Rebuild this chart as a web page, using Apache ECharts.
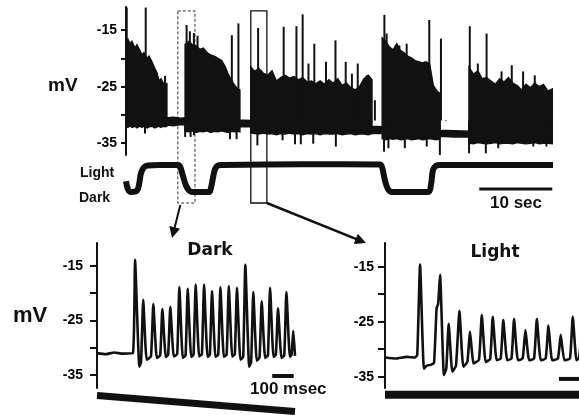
<!DOCTYPE html>
<html>
<head>
<meta charset="utf-8">
<script src="https://cdn.jsdelivr.net/npm/echarts@6.0.0/dist/echarts.min.js"></script>
<style>
  html, body { margin: 0; padding: 0; background: #fff; }
  #chart { width: 579px; height: 418px; }
</style>
</head>
<body>
<div id="chart"></div>
<script>
// ---- top recording: time in sec, membrane potential in mV ----
// envelope of the dense spiking trace (upper edge / lower edge)
const traceT = [0, 0.27, 0.55, 0.82, 1.23, 1.5, 1.9, 2.2, 2.45, 2.9, 3.15, 3.55, 3.95, 4.25, 4.5, 4.8, 5.05, 5.35, 5.6,
  5.6, 6.5, 7.5, 8.1,
  8.1, 8.6, 9.1, 9.6, 10.1, 10.6, 11.1, 11.6, 12.1, 12.6, 13.1, 13.6, 14.0, 14.5, 14.9, 15.3, 15.6,
  15.6, 17.1,
  17.1, 17.6, 18.2, 18.8, 19.4, 20.0, 20.6, 21.2, 21.8, 22.4, 23.0, 23.6, 24.2, 24.8, 25.4, 26.0, 26.6, 27.2, 27.8, 28.4, 29.0, 29.6, 30.2, 30.8, 31.4, 32.0, 32.6, 33.2, 33.7,
  33.7, 35.1,
  35.1, 35.6, 36.1, 36.6, 37.1, 37.6, 38.1, 38.6, 39.1, 39.6, 40.1, 40.6, 41.1, 41.6, 42.1, 42.6, 43.0,
  43.0, 45.0, 47.0,
  47.0, 47.6, 48.2, 48.8, 49.4, 50.0, 50.6, 51.2, 51.8, 52.4, 53.0, 53.6, 54.2, 54.8, 55.4, 56.0, 56.6, 57.2, 57.8, 58.4];
const traceHigh = [-17.1, -16.6, -17.4, -17.0, -18.2, -17.6, -18.6, -19.4, -19.0, -20.0, -19.6, -20.6, -21.8, -22.6, -24.0, -23.6, -24.3, -24.4, -24.5,
  -30.5, -30.4, -30.6, -30.5,
  -17.5, -17.0, -17.6, -17.8, -18.4, -18.2, -19.0, -19.4, -19.6, -20.0, -20.4, -21.5, -22.8, -24.0, -24.8, -25.4, -25.6,
  -30.9, -31.0,
  -21.5, -22.3, -21.8, -22.6, -23.0, -22.2, -24.0, -23.4, -23.0, -23.5, -23.2, -23.8, -23.4, -24.2, -24.0, -24.5, -24.0, -24.6, -23.8, -24.4, -23.6, -24.8, -24.4, -25.2, -25.6, -25.0, -23.6, -23.0, -23.8,
  -32.0, -32.1,
  -16.4, -17.0, -18.0, -18.5, -17.4, -18.6, -19.0, -19.6, -19.9, -20.4, -20.6, -20.8, -20.6, -21.0, -24.8, -25.8, -26.2,
  -32.7, -32.8, -32.9,
  -21.6, -22.8, -22.2, -23.6, -23.4, -24.0, -24.6, -23.6, -24.2, -23.4, -24.4, -24.8, -25.6, -24.6, -25.2, -24.4, -25.0, -24.6, -25.8, -25.4];
const traceLow = [-32.0, -32.2, -31.9, -32.2, -32.0, -32.3, -32.0, -32.2, -32.0, -32.3, -32.1, -32.0, -32.3, -32.1, -32.0, -32.2, -32.0, -32.1, -32.0,
  -31.8, -31.9, -31.7, -31.8,
  -32.9, -33.0, -32.8, -33.1, -32.9, -33.0, -32.8, -33.1, -32.9, -33.0, -32.8, -33.0, -33.1, -32.9, -33.0, -32.9, -33.0,
  -32.1, -32.1,
  -33.2, -33.3, -33.4, -33.2, -33.4, -33.3, -33.5, -33.3, -33.4, -33.2, -33.4, -33.3, -33.5, -33.3, -33.4, -33.3, -33.5, -33.3, -33.4, -33.4, -33.3, -33.5, -33.4, -33.3, -33.5, -33.4, -33.4, -33.5, -33.3,
  -33.3, -33.3,
  -34.2, -34.4, -34.2, -34.3, -34.2, -34.4, -34.3, -34.2, -34.4, -34.3, -34.2, -34.4, -34.3, -34.2, -34.3, -34.4, -34.2,
  -33.8, -33.9, -33.9,
  -35.0, -35.1, -34.9, -35.0, -35.1, -35.0, -34.9, -35.1, -35.0, -35.0, -35.1, -34.9, -35.0, -35.1, -35.0, -34.9, -35.1, -35.0, -35.0, -35.1];

// tall single spikes sticking out of the envelope
const upSpikeT = [0.1, 2.7, 5.35, 8.3, 8.75, 9.3, 9.8, 14.5, 15.4, 18.1, 21.6, 23.35, 24.2, 25.0, 25.8, 27.4, 28.7, 30.1, 30.95, 31.75, 33.0, 34.1,
  35.4, 35.7, 37.45, 38.45, 41.55, 43.15, 43.8, 47.1, 48.2, 49.4, 51.45, 52.85, 54.4, 56.0];
const upSpikeV = [-11.0, -11.0, -23.1, -14.1, -15.2, -15.5, -16.0, -15.9, -13.8, -14.6, -14.4, -14.3, -12.2, -20.9, -17.4, -20.6, -16.8, -20.6, -22.7, -20.9, -23.0, -27.4,
  -12.3, -15.6, -17.7, -17.4, -13.2, -16.5, -30.9, -14.3, -20.9, -15.6, -22.3, -21.2, -22.3, -23.0];
const downSpikeT = [2.6, 8.1, 8.85, 9.3, 14.25, 15.15, 18.0, 21.45, 23.15, 23.95, 25.65, 28.75, 35.35, 35.95, 38.2, 41.2, 43.0, 47.0, 49.3, 51.0, 55.8, 57.6];
const downSpikeV = [-33.3, -33.9, -33.9, -33.6, -34.3, -34.3, -35.4, -34.5, -35.2, -35.2, -35.1, -35.6, -36.5, -35.9, -35.9, -35.6, -37.1, -36.8, -36.8, -35.9, -35.6, -35.6];

// light monitor (1 = light, 0 = dark)
const monitorT = [0, 0.27, 0.68, 1.5, 1.8, 2.05, 2.47, 3.0, 4.66, 7.1, 7.4, 7.8, 8.2, 8.6, 9.0, 11.4, 11.6, 11.9, 12.2, 12.6, 13.15, 23.8,
  34.8, 35.1, 35.5, 35.9, 36.4, 41.4, 41.8, 42.05, 42.5, 43.0, 58.5];
const monitorV = [0.4, 0.1, 0.0, 0.05, 0.3, 0.7, 0.92, 0.98, 1.0, 1.0, 0.95, 0.6, 0.25, 0.07, 0.0, 0.0, 0.1, 0.5, 0.85, 0.98, 1.0, 1.03,
  1.02, 0.9, 0.4, 0.1, 0.0, 0.0, 0.3, 0.8, 0.98, 1.0, 1.0];

const darkWindow = [7.1, 9.45];    // dashed box (sec)
const lightWindow = [17.1, 19.3];  // solid box (sec)
const secBar = [48.4, 58.4];

// ---- expanded sweeps: time in msec ----
const darkT = [0, 40, 80, 120, 167, 177, 197, 205, 215, 231, 251, 262, 278, 294, 304, 320, 331, 341, 357, 373, 383, 399, 412,
  422, 438, 449, 459, 475, 488, 498, 514, 525, 535, 551, 564, 574, 590, 603, 613, 629, 641, 651, 667, 680, 690, 708, 717,
  727, 743, 756, 766, 782, 795, 805, 821, 832, 842, 858, 871, 881, 897, 905, 913, 921];
const darkV = [-31.0, -31.2, -30.9, -31.1, -31.0, -13.9, -33.5, -32.6, -21.2, -32.2, -31.6, -22.0, -31.9, -31.4, -22.9, -31.7, -31.3,
  -22.5, -31.6, -31.2, -18.9, -31.9, -31.4, -19.2, -31.7, -31.3, -18.4, -31.6, -31.2, -18.4, -31.7, -31.3, -19.6, -31.7, -31.3,
  -18.9, -31.7, -31.3, -18.7, -31.6, -31.2, -19.0, -32.2, -31.7, -14.8, -33.5, -32.6, -19.8, -32.4, -31.8, -21.5, -31.9, -31.4,
  -19.0, -31.7, -31.3, -22.8, -31.9, -31.4, -19.8, -31.7, -31.3, -26.9, -31.5];
const lightT = [0, 50, 100, 140, 150, 163, 181, 195, 215, 228, 240, 247, 256, 274, 285, 296, 313, 330, 346, 364, 383,
  395, 412, 437, 450, 468, 489, 501, 519, 538, 550, 568, 588, 600, 618, 640, 653, 670, 693, 706, 724, 747,
  760, 777, 804, 817, 834, 860, 873, 890, 902, 912];
const lightV = [-31.5, -31.7, -31.4, -31.5, -31.0, -14.6, -33.5, -33.0, -32.8, -32.5, -22.5, -21.8, -16.5, -34.7, -33.5, -25.4, -34.1, -33.0,
  -23.0, -33.2, -32.3, -26.8, -32.6, -31.9, -23.8, -32.3, -31.8, -24.1, -32.0, -31.7, -24.7, -32.0, -31.7, -24.5, -32.0, -31.7,
  -26.5, -32.0, -31.7, -24.5, -32.0, -31.7, -25.7, -32.0, -31.7, -27.4, -32.0, -31.7, -24.1, -32.0, -31.6, -28.0];
const darkMonitor = [[0, 0.8], [921, 0.23]];
const lightMonitor = [[0, 0.83], [902, 0.83]];
const msBarDark = [815, 915];
const msBarLight = [809, 909];

const tickValues = [-35, -30, -25, -20, -15];
const labelValues = [-35, -25, -15];

const INK = '#111';
const FONT = '"Liberation Sans", Arial, sans-serif';

function zip(xs, ys) {
  return xs.map((x, i) => [x, ys[i]]);
}

function mvAxis(gridIndex, min, max, margin, tickLen) {
  return {
    type: 'value', gridIndex: gridIndex, min: min, max: max,
    axisLine: { show: true, lineStyle: { color: INK, width: 2 } },
    axisTick: { show: true, inside: false, length: tickLen, customValues: tickValues, lineStyle: { color: INK, width: 2 } },
    axisLabel: { customValues: labelValues, margin: margin, color: '#000', fontFamily: FONT, fontWeight: 'bold', fontSize: 14 },
    splitLine: { show: false }
  };
}

function hiddenAxis(gridIndex, min, max) {
  return { type: 'value', gridIndex: gridIndex, min: min, max: max, show: false, splitLine: { show: false } };
}

function trace(xi, yi, data, width, smooth) {
  return {
    type: 'line', xAxisIndex: xi, yAxisIndex: yi, data: data, symbol: 'none',
    smooth: smooth || false, lineStyle: { color: INK, width: width }, silent: true, animation: false
  };
}

// 竖直尖峰
function spikeSeries(data) {
  return {
    type: 'custom', xAxisIndex: 0, yAxisIndex: 0, data: data, silent: true, animation: false,
    encode: { x: 0, y: [1, 2] },
    renderItem: function(params, api) {
      const a = api.coord([api.value(0), api.value(1)]);
      const b = api.coord([api.value(0), api.value(2)]);
      return { type: 'line', shape: { x1: a[0], y1: a[1], x2: b[0], y2: b[1] }, style: { stroke: INK, lineWidth: 2 } };
    }
  };
}

const chart = echarts.init(document.getElementById('chart'), null, { renderer: 'canvas' });

const option = {
  backgroundColor: '#fff',
  animation: false,
  grid: [
    { left: 126, top: 7, width: 427, height: 148 },   // 0 top recording
    { left: 126, top: 165, width: 427, height: 27 },  // 1 top light monitor
    { left: 97, top: 243, width: 198, height: 145 },  // 2 dark sweep
    { left: 97, top: 390, width: 198, height: 30 },   // 3 dark monitor
    { left: 385, top: 243, width: 194, height: 145 }, // 4 light sweep
    { left: 385, top: 390, width: 194, height: 30 }   // 5 light monitor
  ],
  xAxis: [
    hiddenAxis(0, 0, 58.5), hiddenAxis(1, 0, 58.5),
    hiddenAxis(2, 0, 921), hiddenAxis(3, 0, 921),
    hiddenAxis(4, 0, 902), hiddenAxis(5, 0, 902)
  ],
  yAxis: [
    mvAxis(0, -37.1, -10.9, 9, 5), hiddenAxis(1, 0, 1),
    mvAxis(2, -37.4, -10.8, 14, 7), hiddenAxis(3, 0, 1),
    mvAxis(4, -37.05, -10.7, 11, 7), hiddenAxis(5, 0, 1)
  ],
  series: [
    // 包络带
    {
      type: 'custom', xAxisIndex: 0, yAxisIndex: 0, data: [[0, -30]], silent: true, animation: false,
      renderItem: function(params, api) {
        const pts = [];
        for (let i = 0; i < traceT.length; i++) pts.push(api.coord([traceT[i], traceHigh[i]]));
        for (let i = traceT.length - 1; i >= 0; i--) pts.push(api.coord([traceT[i], traceLow[i]]));
        return { type: 'polygon', shape: { points: pts }, style: { fill: INK, stroke: INK, lineWidth: 1.5 } };
      }
    },
    spikeSeries(upSpikeT.map((t, i) => [t, -31, upSpikeV[i]])),
    spikeSeries(downSpikeT.map((t, i) => [t, -31, downSpikeV[i]])),
    Object.assign(trace(1, 1, zip(monitorT, monitorV), 6, 0.35), { clip: false }),
    Object.assign(trace(1, 1, secBar.map(t => [t, 0.11]), 3), { clip: false }),
    trace(2, 2, zip(darkT, darkV), 2.6, 0.15),
    Object.assign(trace(2, 2, msBarDark.map(t => [t, -35.2]), 4), { clip: false }),
    Object.assign(trace(3, 3, darkMonitor, 7), { clip: false }),
    trace(4, 4, zip(lightT, lightV), 2.6, 0.15),
    trace(4, 4, msBarLight.map(t => [t, -35.4]), 4),
    Object.assign(trace(5, 5, lightMonitor, 8), { clip: false })
  ]
};
chart.setOption(option);

// 方框和箭头
function arrow(x1, y1, x2, y2, w) {
  const dx = x2 - x1, dy = y2 - y1, len = Math.hypot(dx, dy);
  const ux = dx / len, uy = dy / len, hl = 11, hw = 5.5;
  const bx = x2 - ux * hl, by = y2 - uy * hl;
  return [
    { type: 'line', shape: { x1: x1, y1: y1, x2: bx + ux * 2, y2: by + uy * 2 }, style: { stroke: INK, lineWidth: w } },
    { type: 'polygon', shape: { points: [[x2, y2], [bx + uy * hw, by - ux * hw], [bx - uy * hw, by + ux * hw]] }, style: { fill: INK } }
  ];
}

function text(str, x, y, size, align, family) {
  return {
    type: 'text', x: x, y: y, silent: true,
    style: {
      text: str, fill: INK, font: 'bold ' + size + 'px ' + (family || FONT),
      textAlign: align || 'left', textVerticalAlign: 'middle', align: align || 'left', verticalAlign: 'middle'
    }
  };
}

const boxTop = chart.convertToPixel({ yAxisIndex: 0 }, -11.6);
const dx1 = chart.convertToPixel({ xAxisIndex: 0 }, darkWindow[0]);
const dx2 = chart.convertToPixel({ xAxisIndex: 0 }, darkWindow[1]);
const lx1 = chart.convertToPixel({ xAxisIndex: 0 }, lightWindow[0]);
const lx2 = chart.convertToPixel({ xAxisIndex: 0 }, lightWindow[1]);
const boxBottom = 203;

let graphics = [
  { type: 'rect', shape: { x: dx1, y: boxTop, width: dx2 - dx1, height: boxBottom - boxTop }, style: { fill: 'none', stroke: '#333', lineWidth: 1, lineDash: [3, 2] } },
  { type: 'rect', shape: { x: lx1, y: boxTop, width: lx2 - lx1, height: boxBottom - boxTop }, style: { fill: 'none', stroke: INK, lineWidth: 1.3 } }
];
graphics = graphics.concat(arrow(dx1 + 2.5, boxBottom + 2, 172, 238, 2));
graphics = graphics.concat(arrow(lx2, boxBottom, 366, 243, 2.5));
graphics.push(
  text('mV', 48, 86, 19),
  text('Light', 80, 173, 14),
  text('Dark', 79, 198, 14),
  text('10 sec', 516, 203, 17, 'center'),
  text('mV', 13, 316, 22),
  text('Dark', 210, 251, 17, 'center', '"DejaVu Sans", sans-serif'),
  text('Light', 495, 253, 17, 'center', '"DejaVu Sans", sans-serif'),
  text('100 msec', 250, 389, 17)
);
chart.setOption({ graphic: graphics });
</script>
</body>
</html>
